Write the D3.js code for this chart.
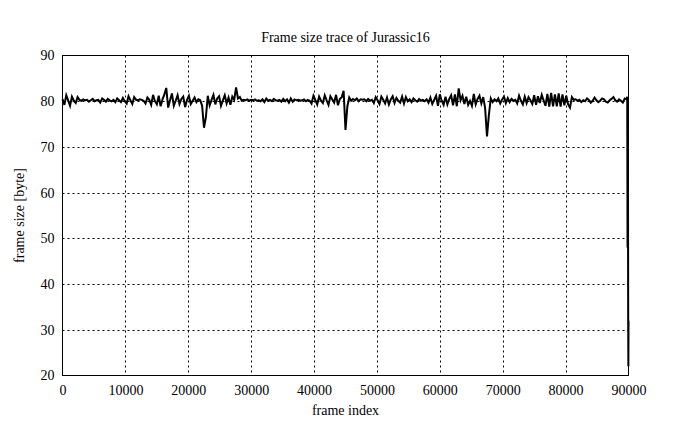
<!DOCTYPE html>
<html><head><meta charset="utf-8">
<script src="https://cdn.jsdelivr.net/npm/d3@7/dist/d3.min.js"></script>
<style>body{margin:0;background:#fff}svg{display:block}text{font-family:"Liberation Serif","DejaVu Serif",serif;fill:#000}</style>
</head><body><svg id="c" width="695" height="429"></svg>
<script>
const title = "Frame size trace of Jurassic16";
const xLabel = "frame index";
const yLabel = "frame size [byte]";
const xTicks = [0,10000,20000,30000,40000,50000,60000,70000,80000,90000];
const yTicks = [20,30,40,50,60,70,80,90];
const sampleStep = 300; // frames between samples
const frameSizes = [
80.5,79.2,81.3,80.2,79.0,81.0,80.1,79.6,80.9,80.3,
80.1,80.4,80.2,80.3,79.9,80.2,80.5,80.0,80.2,80.3,
79.7,80.6,80.3,79.9,80.5,80.2,80.0,80.3,79.8,80.6,
80.2,79.8,80.7,80.0,79.5,81.1,80.2,79.4,80.9,80.3,
80.2,80.4,80.3,80.1,79.5,80.8,80.3,79.2,81.4,80.0,
79.3,81.2,78.9,80.4,81.5,82.9,78.6,80.2,81.7,79.0,
80.1,81.3,79.4,80.5,81.0,78.7,80.3,81.2,79.4,80.1,
80.8,79.8,80.4,80.2,79.0,74.2,76.5,81.2,79.1,80.3,
81.4,79.3,80.6,81.1,79.0,80.2,81.3,79.5,80.8,79.2,
81.0,80.3,83.0,80.6,80.9,80.1,80.3,80.2,80.4,80.1,
80.3,80.2,80.4,80.1,80.2,80.0,80.4,79.8,80.6,80.1,
80.3,80.0,80.5,80.2,80.1,80.3,79.9,80.5,80.0,80.4,
79.7,80.6,79.9,80.4,80.2,80.3,80.1,80.2,80.4,80.0,
80.3,80.1,79.5,81.2,80.3,79.3,81.0,80.1,79.6,81.3,
80.2,79.2,81.1,80.4,79.7,81.4,79.1,80.5,80.9,82.3,
73.7,78.9,80.8,80.1,80.5,80.2,80.6,80.0,80.4,80.3,
80.4,80.0,80.5,80.1,80.3,79.6,80.9,80.2,79.4,81.0,
80.3,79.5,80.8,79.3,80.4,81.1,79.6,80.7,80.1,79.7,
81.0,79.5,80.9,80.0,80.4,79.8,80.6,80.2,79.9,80.5,
80.1,80.3,80.0,80.4,79.7,80.8,79.4,80.3,81.2,79.0,
81.5,80.1,79.2,81.0,79.3,80.5,81.3,79.1,81.5,78.9,
82.8,80.2,81.2,79.4,81.0,79.2,80.1,79.0,81.6,79.3,
80.5,81.2,79.5,80.9,78.5,72.3,77.0,80.6,79.8,80.4,
80.0,80.6,79.5,80.4,81.0,79.6,80.7,79.8,80.5,80.1,
80.3,79.5,81.2,80.1,79.3,81.0,79.6,80.9,80.2,79.4,
81.3,79.2,81.1,79.6,81.4,80.2,79.0,81.6,78.8,81.8,
78.9,81.5,78.9,81.7,78.8,81.5,79.1,81.2,79.3,78.6,
80.9,80.3,80.4,80.1,80.3,79.8,80.2,80.0,80.6,80.3,
79.7,80.1,80.8,80.2,79.8,80.1,80.6,80.4,79.9,79.7,
80.2,80.5,80.9,80.2,79.9,80.4,80.1,79.7,80.6,80.4
];
const tailFrames = [89800, 89850, 89900, 89950, 89980, 90000];
const tailSizes  = [81.0, 48.0, 80.5, 32.0, 22.0, 32.0];

const data = frameSizes.map((v,i)=>({f:i*sampleStep, v}))
  .concat(tailFrames.map((f,i)=>({f, v:tailSizes[i]})));

const svg = d3.select("#c");
const L=62.5, R=628.5, T=55.5, B=375.5;
const x = d3.scaleLinear().domain([0,90000]).range([L,R]);
const y = d3.scaleLinear().domain([20,90]).range([B,T]);

// grid
const g = svg.append("g");
g.selectAll("line.vx").data(xTicks.slice(1,-1)).join("line")
  .attr("x1",d=>Math.round(x(d))+0.5).attr("x2",d=>Math.round(x(d))+0.5)
  .attr("y1",T).attr("y2",B).attr("stroke","#000").attr("stroke-width",1).attr("stroke-dasharray","2,3");
g.selectAll("line.hy").data(yTicks.slice(1,-1)).join("line")
  .attr("y1",d=>Math.round(y(d))+0.5).attr("y2",d=>Math.round(y(d))+0.5)
  .attr("x1",L).attr("x2",R).attr("stroke","#000").attr("stroke-width",1).attr("stroke-dasharray","2,3");

// axes labels
const xa = d3.axisBottom(x).tickValues(xTicks).tickSize(0).tickPadding(10).tickFormat(d3.format("d"));
const xg = svg.append("g").attr("transform",`translate(0,${B})`).call(xa);
const ya = d3.axisLeft(y).tickValues(yTicks).tickSize(0).tickPadding(8).tickFormat(d3.format("d"));
const yg = svg.append("g").attr("transform",`translate(${L},0)`).call(ya);
[xg,yg].forEach(s=>{s.select(".domain").remove(); s.selectAll("text").style("font-family","Liberation Serif, DejaVu Serif, serif").style("font-size","14px").attr("fill","#000");});

// data line
svg.append("path").datum(data)
  .attr("d", d3.line().x(d=>x(d.f)).y(d=>y(d.v)))
  .attr("fill","none").attr("stroke","#000").attr("stroke-width",2).attr("stroke-linejoin","miter");

// frame
svg.append("rect").attr("x",L).attr("y",T).attr("width",R-L).attr("height",B-T)
  .attr("fill","none").attr("stroke","#000").attr("stroke-width",1);

svg.append("text").attr("x",(L+R)/2).attr("y",42).attr("text-anchor","middle").style("font-size","14px").text(title);
svg.append("text").attr("x",(L+R)/2).attr("y",415).attr("text-anchor","middle").style("font-size","14px").text(xLabel);
svg.append("text").attr("transform",`translate(24,${(T+B)/2}) rotate(-90)`).attr("text-anchor","middle").style("font-size","14px").text(yLabel);
</script></body></html>
